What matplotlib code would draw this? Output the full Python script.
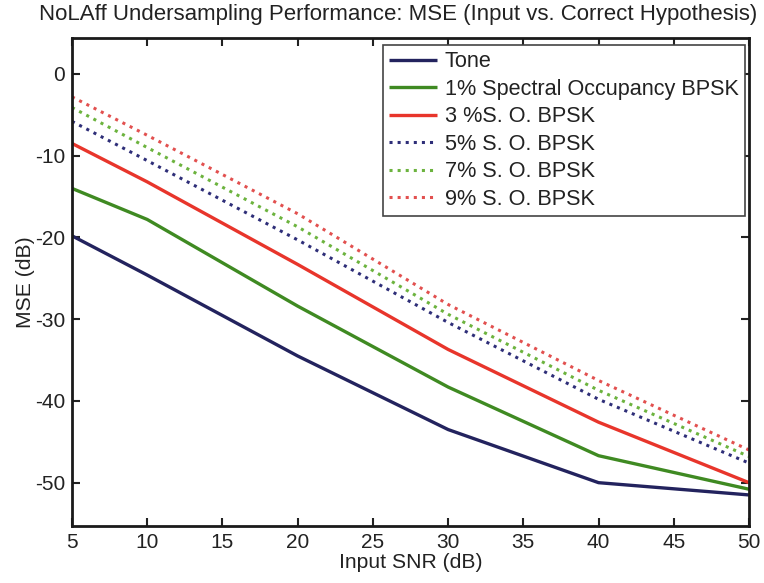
import matplotlib
matplotlib.use("Agg")
import matplotlib.pyplot as plt

plt.rcParams['font.family'] = ['Liberation Sans', 'DejaVu Sans']
plt.rcParams['axes.unicode_minus'] = False

snr_db = [5, 10, 20, 30, 40, 50]
series_labels = [
    "Tone",
    "1% Spectral Occupancy BPSK",
    "3 %S. O. BPSK",
    "5% S. O. BPSK",
    "7% S. O. BPSK",
    "9% S. O. BPSK",
]
mse_tone = [-19.8, -24.6, -34.5, -43.5, -50.0, -51.5]
mse_1pct = [-14.0, -17.8, -28.4, -38.3, -46.7, -50.8]
mse_3pct = [-8.5, -13.2, -23.3, -33.7, -42.6, -50.0]
mse_5pct = [-5.8, -10.6, -20.3, -30.4, -39.8, -47.6]
mse_7pct = [-4.1, -9.0, -18.7, -29.4, -38.7, -46.8]
mse_9pct = [-2.8, -7.5, -17.1, -28.2, -37.5, -46.0]
x_ticks = [5, 10, 15, 20, 25, 30, 35, 40, 45, 50]
y_ticks = [0, -10, -20, -30, -40, -50]

series = [mse_tone, mse_1pct, mse_3pct, mse_5pct, mse_7pct, mse_9pct]
colors = ["#23235e", "#3f8a22", "#e8352b", "#2e2e78", "#6cb33e", "#e2504f"]
styles = ["-", "-", "-", ":", ":", ":"]

fig = plt.figure(figsize=(7.64, 5.83), dpi=100)
ax = fig.add_axes([72 / 764, 57 / 583, 677 / 764, 488 / 583])

for vals, lab, col, ls in zip(series, series_labels, colors, styles):
    ax.plot(snr_db, vals, ls, color=col, lw=2.4 if ls == "-" else 2.2,
            label=lab, solid_capstyle="butt")

ax.set_xlim(5, 50)
ax.set_ylim(-55.3, 4.4)
ax.set_xticks(x_ticks)
ax.set_yticks(y_ticks)
ax.tick_params(direction="in", length=6, width=1.5, top=True, right=True,
               labelsize=15, colors="#222222", pad=5)
for s in ax.spines.values():
    s.set_linewidth(2.0)
    s.set_color("#1a1a1a")

ax.set_xlabel("Input SNR (dB)", fontsize=15.2, color="#222222", labelpad=1)
ax.set_ylabel("MSE (dB)", fontsize=15.2, color="#222222", labelpad=0)
fig.text(398.5 / 764, 1 - 4 / 583,
         "NoLAff Undersampling Performance: MSE (Input vs. Correct Hypothesis)",
         ha="center", va="top", fontsize=16, color="#222222")

leg = ax.legend(loc="upper right", bbox_to_anchor=(0.994, 0.986), borderaxespad=0,
                fontsize=15.6, handlelength=2.2, handletextpad=0.35, labelspacing=0.3,
                borderpad=0.3, fancybox=False, framealpha=1, edgecolor="#444444")
leg.get_frame().set_linewidth(1.2)
for t in leg.get_texts():
    t.set_color("#222222")

fig.savefig("out.png", dpi=100)
